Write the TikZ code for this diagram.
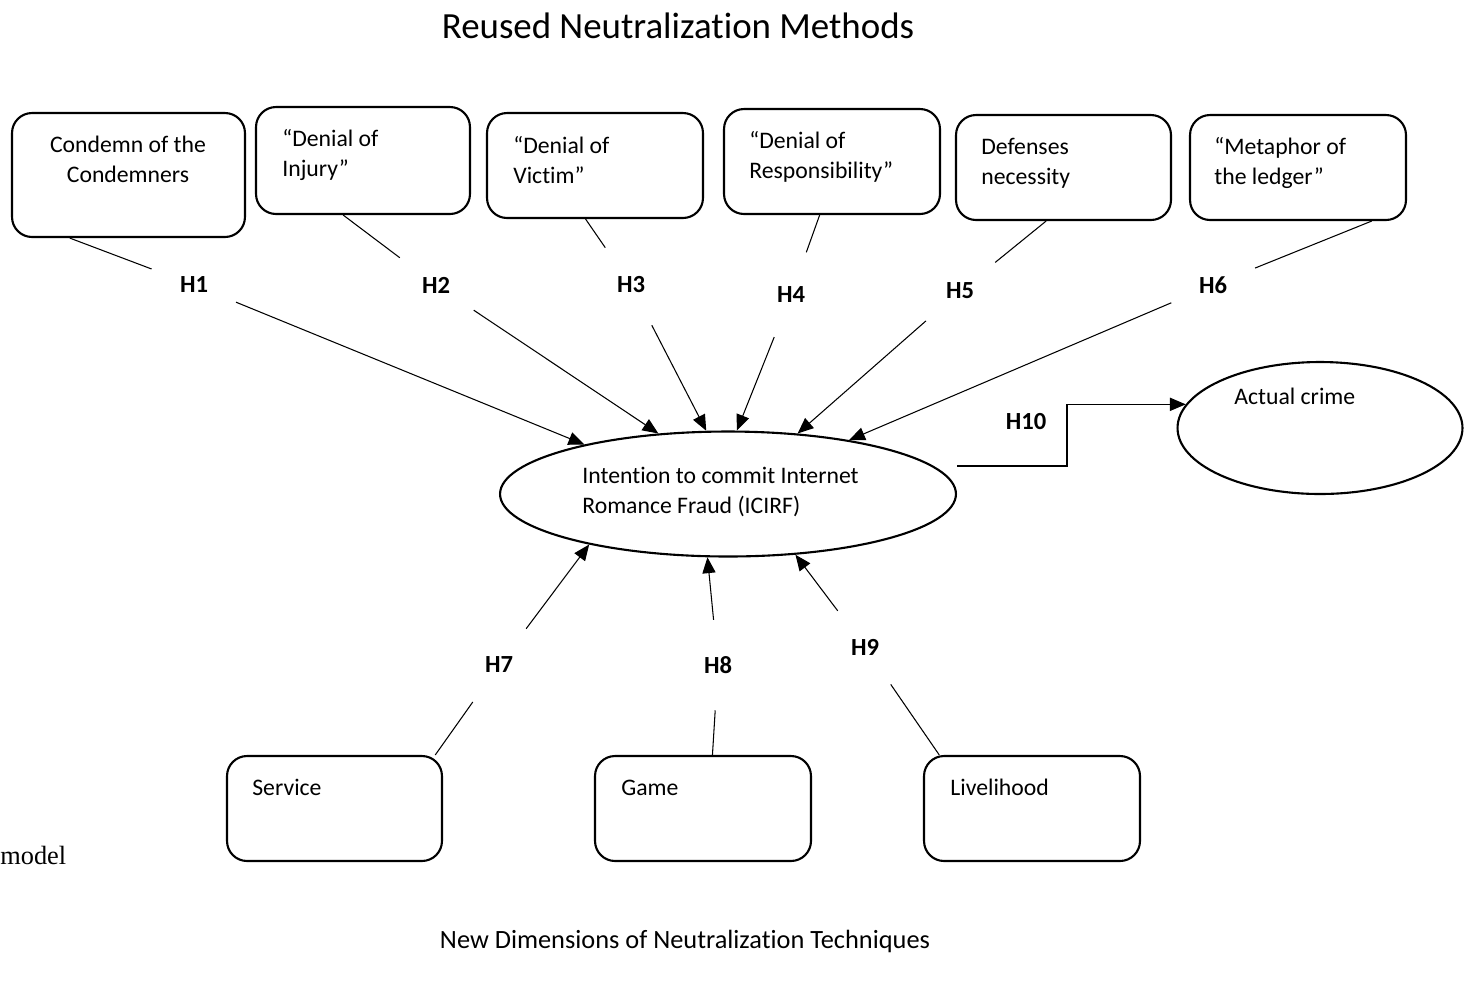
\documentclass[tikz,border=0pt]{standalone}
\usepackage{fontspec}
\setmainfont{Carlito}[Ligatures=NoCommon]
\newfontfamily\modelfont{Liberation Serif}
\usetikzlibrary{arrows.meta,shapes.geometric}

\begin{document}
\begin{tikzpicture}[
    x=0.02cm,
    y=-0.02cm,
    font=\fontsize{13.5}{17}\selectfont,
    box/.style={draw, line width=1.2pt, rounded corners=0.4cm},
    oval/.style={draw, ellipse, line width=1.2pt},
    txt/.style={anchor=base west, align=left, inner sep=0pt},
    hyp/.style={circle, minimum size=1.8cm, inner sep=0pt,
      font=\fontsize{14}{16}\selectfont\bfseries},
    link/.style={line width=0.6pt},
    arr/.style={line width=0.6pt, -{Triangle[length=9pt,width=7.5pt]}}
  ]
    \useasboundingbox (0,0) rectangle (1466,985);

    % Titulos
    \node[font=\fontsize{21}{24}\selectfont, anchor=base] (title) at (678,38)
      {Reused Neutralization Methods};
    \node[font=\fontsize{15}{17}\selectfont, anchor=base] (newdim) at (685,948)
      {New Dimensions of Neutralization Techniques};
    \node[font=\modelfont\fontsize{15}{17}\selectfont, anchor=base west,
      inner sep=0pt] (model) at (0,864) {model};

    % --- Tecnicas reutilizadas (texto: linea base de la ultima linea) ---
    \node[box, minimum width=4.66cm, minimum height=2.48cm] (cond) at (128.5,175) {};
    \node[txt, align=center, anchor=base] (condtxt) at (128,182)
      {Condemn of the\\Condemners};
    \node[box, minimum width=4.28cm, minimum height=2.14cm] (injury) at (363,160.5) {};
    \node[txt] (injurytxt) at (282,176) {“Denial of\\Injury”};
    \node[box, minimum width=4.32cm, minimum height=2.10cm] (victim) at (595,165.5) {};
    \node[txt] (victimtxt) at (513,183) {“Denial of\\Victim”};
    \node[box, minimum width=4.32cm, minimum height=2.10cm] (resp) at (832,161.5) {};
    \node[txt] (resptxt) at (749,178) {“Denial of\\Responsibility”};
    \node[box, minimum width=4.30cm, minimum height=2.10cm] (necess) at (1063.5,167.5) {};
    \node[txt] (necesstxt) at (981,184) {Defenses\\necessity};
    \node[box, minimum width=4.32cm, minimum height=2.10cm] (ledger) at (1298,167.5) {};
    \node[txt] (ledgertxt) at (1214,184) {“Metaphor of\\the ledger”};

    % --- Constructos centrales ---
    \node[oval, minimum width=9.12cm, minimum height=2.5cm] (icirf) at (728,494) {};
    \node[txt] (icirftxt) at (582,513)
      {Intention to commit Internet\\Romance Fraud (ICIRF)};
    \node[oval, minimum width=5.7cm, minimum height=2.64cm] (crime) at (1320,428) {};
    \node[txt] (crimetxt) at (1234,404) {Actual crime};

    % --- Nuevas dimensiones ---
    \node[box, minimum width=4.30cm, minimum height=2.10cm] (service) at (334.5,808.5) {};
    \node[txt] (servicetxt) at (252,795) {Service};
    \node[box, minimum width=4.32cm, minimum height=2.10cm] (game) at (703,808.5) {};
    \node[txt] (gametxt) at (621,795) {Game};
    \node[box, minimum width=4.32cm, minimum height=2.10cm] (livel) at (1032,808.5) {};
    \node[txt] (liveltxt) at (950,795) {Livelihood};

    % Hipotesis
    \node[hyp] (h1) at (194,285) {H1};
    \node[hyp] (h2) at (436,285) {H2};
    \node[hyp] (h3) at (631,285) {H3};
    \node[hyp] (h4) at (791,295) {H4};
    \node[hyp] (h5) at (960,291) {H5};
    \node[hyp] (h6) at (1213,285) {H6};
    \node[hyp] (h7) at (499,665) {H7};
    \node[hyp] (h8) at (718,665) {H8};
    \node[hyp] (h9) at (865,647) {H9};
    \node[hyp] (h10) at (1026,422) {H10};

    % Conexiones superiores
    \draw[link] (cond.227) -- (h1);
    \draw[arr] (h1) -- (icirf.161);
    \draw[link] (injury.250) -- (h2);
    \draw[arr] (h2) -- (icirf.139);
    \draw[link] (victim.260) -- (h3);
    \draw[arr] (h3) -- (icirf.109);
    \draw[link] (resp.257) -- (h4);
    \draw[arr] (h4) -- (icirf.82);
    \draw[link] (necess.252) -- (h5);
    \draw[arr] (h5) -- (icirf.41);
    \draw[link] (ledger.324) -- (h6);
    \draw[arr] (h6) -- (icirf.24);

    % Conexiones inferiores
    \draw[link] (service.28) -- (h7);
    \draw[arr] (h7) -- (icirf.200);
    \draw[link] (game.80) -- (h8);
    \draw[arr] (h8) -- (icirf.252);
    \draw[link] (livel.150) -- (h9);
    \draw[arr] (h9) -- (icirf.318);

    % H10
    \draw[arr] ([shift={(0,-28)}]icirf.east) -- ++(110,0) |- (crime.170);
  \end{tikzpicture}
\end{document}
